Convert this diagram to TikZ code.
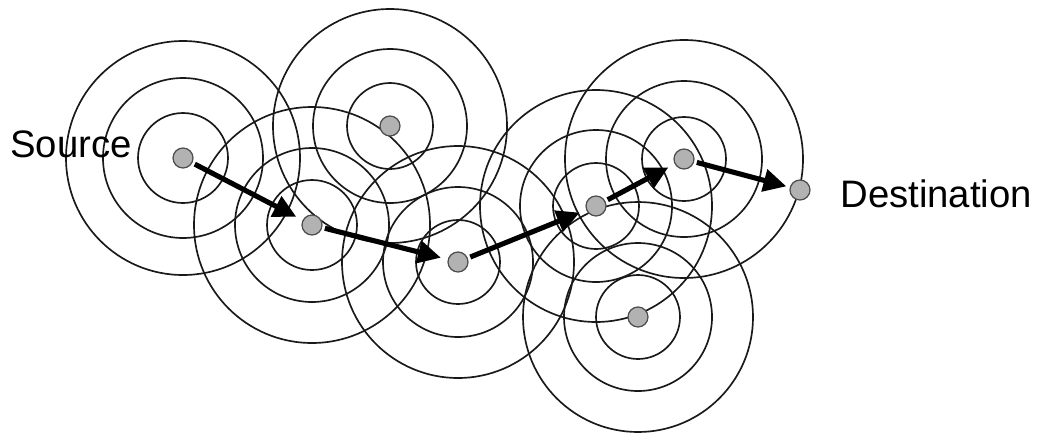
\documentclass[tikz,border=0pt]{standalone}
\usepackage{fontspec}
\setmainfont{Liberation Sans}
\usetikzlibrary{arrows.meta, backgrounds}

\begin{document}
\begin{tikzpicture}[
    x=0.02cm, y=-0.02cm,
    station/.style={circle, draw=black!70, fill=black!30, line width=0.7pt, minimum size=0.4cm, inner sep=0pt},
    ring/.style={draw=black!90, line width=0.95pt},
    hop/.style={-{Triangle[length=13pt, width=12.5pt]}, line width=2.9pt, shorten <=1.5pt, shorten >=4pt},
    endtext/.style={font=\fontsize{21.8}{26}\selectfont, anchor=base west, inner sep=0pt},
]
\useasboundingbox (0,0) rectangle (1037,433);

% Stations
\node[station] (src) at (183,158) {};
\node[station] (idleA) at (390,126) {};
\node[station] (hopA) at (312,225) {};
\node[station] (hopB) at (458,262) {};
\node[station] (hopC) at (596,206) {};
\node[station] (hopD) at (684,159) {};
\node[station] (idleB) at (638,317) {};
\node[station] (dst) at (800,190) {};

% Labels
\node[endtext] (srctext) at (10,157) {Source};
\node[endtext] (dsttext) at (840,207) {Destination};

% Radio ranges
\begin{scope}[on background layer]
\foreach \n/\ra/\rb/\rc in {src/45/80/117, idleA/43/77/117, hopA/45/77/118, hopB/42/75/116,
                            hopC/43/76/116, hopD/42/78/119, idleB/42/74/115} {
    \draw[ring] (\n) circle (\ra);
    \draw[ring] (\n) circle (\rb);
    \draw[ring] (\n) circle (\rc);
}
\end{scope}

% Route
\draw[hop] (src) -- (hopA);
\draw[hop] (hopA) -- (hopB);
\draw[hop] (hopB) -- (hopC);
\draw[hop] (hopC) -- (hopD);
\draw[hop, shorten >=2pt] (hopD) -- (dst);

\end{tikzpicture}
\end{document}
